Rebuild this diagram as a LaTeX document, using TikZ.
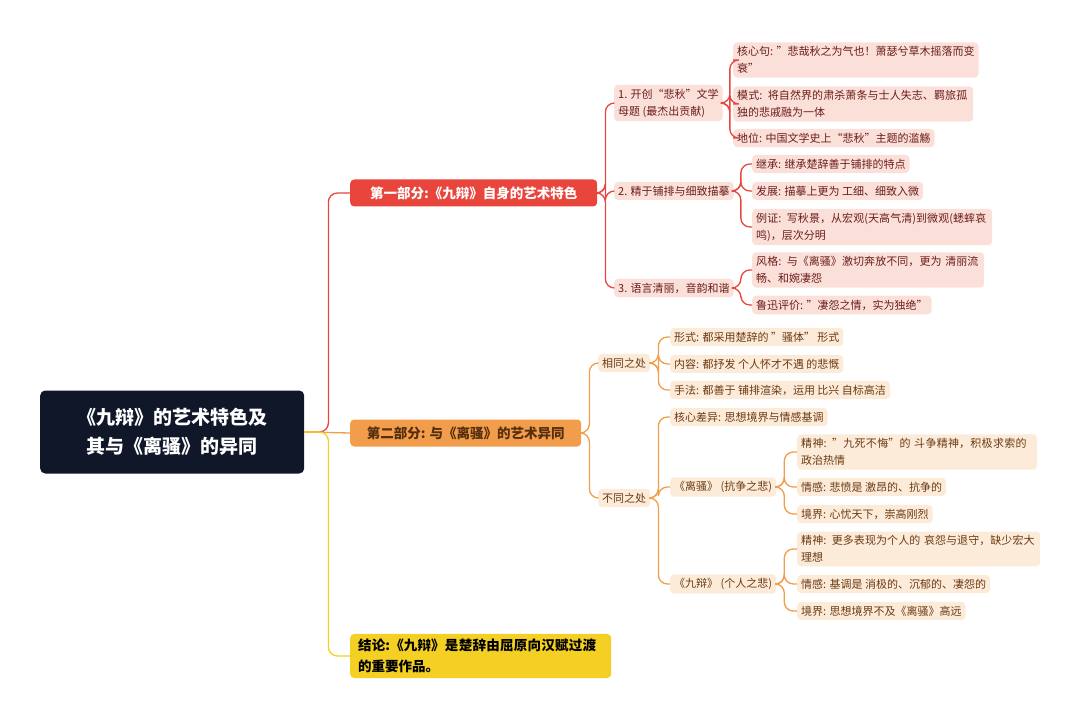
\documentclass[tikz,border=0pt]{standalone}
\usepackage{fontspec}
\setmainfont{Noto Sans CJK SC}
\XeTeXlinebreaklocale "zh"
\XeTeXlinebreakskip=0pt plus 1pt
\definecolor{navy}{HTML}{0F1729}
\definecolor{rred}{HTML}{E8453C}
\definecolor{oorange}{HTML}{F29D4B}
\definecolor{yyellow}{HTML}{F3D023}
\definecolor{pinkbg}{HTML}{FBE0D9}
\definecolor{pinktx}{HTML}{6B1D1A}
\definecolor{orbg}{HTML}{FDEBD9}
\definecolor{ortx}{HTML}{6A3A12}
\tikzset{
  box/.style={rounded corners=4pt, inner xsep=4pt, inner ysep=4pt, anchor=west, align=left,
    font=\fontsize{11}{17}\selectfont},
  redbox/.style={box, fill=pinkbg, text=pinktx},
  orbox/.style={box, fill=orbg, text=ortx},
  part/.style={box, font=\fontsize{13.5}{21}\selectfont\bfseries, inner xsep=8pt, inner ysep=5pt},
  link/.style={line width=1.3pt, rounded corners=9pt},
}
\begin{document}
\begin{tikzpicture}[x=1pt,y=-1pt]
  \useasboundingbox (0,0) rectangle (1080,722);
  % root
  \node[box, fill=navy, text=white, font=\fontsize{19}{29}\selectfont\bfseries, align=center,
    minimum width=264, minimum height=83, rounded corners=5pt] (root) at (40,432)
    {《九辩》的艺术特色及\\其与《离骚》的异同};
  % parts
  \node[part, fill=rred, text=white, minimum height=27, minimum width=247] (p1) at (350,193) {第一部分:《九辩》自身的艺术特色};
  \node[part, fill=oorange, text=ortx!80!black, minimum height=27, minimum width=231] (p2) at (350,433) {第二部分: 与《离骚》的艺术异同};
  \node[part, fill=yyellow, text=black, text width=245] (p3) at (350,656) {结论:《九辩》是楚辞由屈原向汉赋过渡的重要作品。};
  \draw[link, rred] (root.east) -- ++(24,0) |- (p1.west);
  \draw[link, oorange] (root.east) -- (p2.west);
  \draw[link, yyellow] (root.east) -- ++(24,0) |- (p3.west);
  % part 1
  \node[redbox] (a1) at (614,103) {1. 开创“悲秋”文学\\母题 (最杰出贡献)};
  \node[redbox] (a2) at (614,191) {2. 精于铺排与细致描摹};
  \node[redbox] (a3) at (614,288) {3. 语言清丽，音韵和谐};
  \foreach \n in {a1,a2,a3} \draw[link, rred] (p1.east) -- ++(8,0) |- (\n.west);
  \node[redbox] (a11) at (733,60) {核心句: ”悲哉秋之为气也！萧瑟兮草木摇落而变\\衰”};
  \node[redbox, text width=232] (a12) at (733,104) {模式: 将自然界的肃杀萧条与士人失志、羁旅孤独的悲戚融为一体};
  \node[redbox] (a13) at (733,138) {地位: 中国文学史上“悲秋”主题的滥觞};
  \node[redbox] (a21) at (752,164) {继承: 继承楚辞善于铺排的特点};
  \node[redbox] (a22) at (752,191) {发展: 描摹上更为 工细、细致入微};
  \node[redbox, text width=232] (a23) at (752,227) {例证: 写秋景，从宏观(天高气清)到微观(蟋蟀哀鸣)，层次分明};
  \node[redbox, text width=224] (a31) at (752,270) {风格: 与《离骚》激切奔放不同，更为 清丽流畅、和婉凄怨};
  \node[redbox] (a32) at (752,305) {鲁迅评价: ”凄怨之情，实为独绝”};
  \foreach \n in {a11,a12,a13} \draw[link, rred] (a1.east) -- ++(7,0) |- (\n.west);
  \foreach \n in {a21,a22,a23} \draw[link, rred] (a2.east) -- ++(7,0) |- (\n.west);
  \foreach \n in {a31,a32} \draw[link, rred] (a3.east) -- ++(7,0) |- (\n.west);
  % part 2
  \node[orbox] (b1) at (598,363) {相同之处};
  \node[orbox] (b2) at (598,498) {不同之处};
  \foreach \n in {b1,b2} \draw[link, oorange] (p2.east) -- ++(8,0) |- (\n.west);
  \node[orbox] (b11) at (670,337) {形式: 都采用楚辞的 ”骚体” 形式};
  \node[orbox] (b12) at (670,364) {内容: 都抒发 个人怀才不遇 的悲慨};
  \node[orbox] (b13) at (670,390) {手法: 都善于 铺排渲染，运用 比兴 自标高洁};
  \foreach \n in {b11,b12,b13} \draw[link, oorange] (b1.east) -- ++(8,0) |- (\n.west);
  \node[orbox] (b21) at (670,417) {核心差异: 思想境界与情感基调};
  \node[orbox] (b22) at (670,487) {《离骚》 (抗争之悲)};
  \node[orbox] (b23) at (670,584) {《九辩》 (个人之悲)};
  \foreach \n in {b21,b22,b23} \draw[link, oorange] (b2.east) -- ++(8,0) |- (\n.west);
  \node[orbox, text width=232] (c1) at (797,452) {精神: ”九死不悔”的 斗争精神，积极求索的政治热情};
  \node[orbox] (c2) at (797,487) {情感: 悲愤是 激昂的、抗争的};
  \node[orbox] (c3) at (797,514) {境界: 心忧天下，崇高刚烈};
  \node[orbox, text width=235] (d1) at (797,549) {精神: 更多表现为个人的 哀怨与退守，缺少宏大理想};
  \node[orbox] (d2) at (797,584) {情感: 基调是 消极的、沉郁的、凄怨的};
  \node[orbox] (d3) at (797,611) {境界: 思想境界不及《离骚》高远};
  \foreach \n in {c1,c2,c3} \draw[link, oorange] (b22.east) -- ++(8,0) |- (\n.west);
  \foreach \n in {d1,d2,d3} \draw[link, oorange] (b23.east) -- ++(8,0) |- (\n.west);
\end{tikzpicture}
\end{document}
